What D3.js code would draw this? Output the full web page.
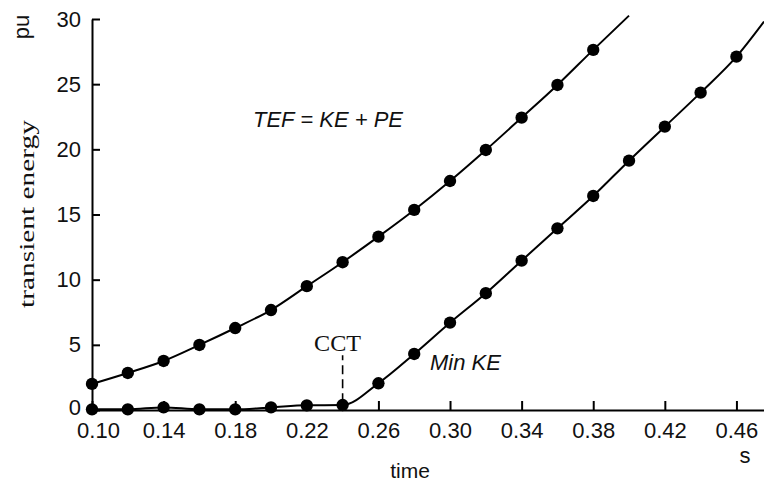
<!DOCTYPE html>
<html>
<head>
<meta charset="utf-8">
<script src="https://cdn.jsdelivr.net/npm/d3@7"></script>
<style>
  body { margin: 0; background: #fff; }
  svg { display: block; }
  text { fill: #111; }
</style>
</head>
<body>
<div id="chart"></div>
<script>
// values (time in s, energy in pu)
const time = [0.10, 0.12, 0.14, 0.16, 0.18, 0.20, 0.22, 0.24, 0.26, 0.28,
              0.30, 0.32, 0.34, 0.36, 0.38, 0.40, 0.42, 0.44, 0.46];
const tef = [2.0, 2.84, 3.76, 4.99, 6.29, 7.67, 9.5, 11.34, 13.3, 15.35,
             17.57, 19.95, 22.43, 24.94, 27.63, null, null, null, null];
const minKE = [0.05, 0.05, 0.2, 0.05, 0.05, 0.2, 0.36, 0.38, 2.05, 4.3,
               6.7, 8.96, 11.46, 13.94, 16.42, 19.13, 21.74, 24.35, 27.11];
// where each curve leaves the frame (no marker there)
const tefEnd = [0.40, 30.26];
const minKEEnd = [0.4754, 29.8];
const cctTime = 0.24;
const cctSpan = [0.6, 4.2];
const xTicks = [0.10, 0.14, 0.18, 0.22, 0.26, 0.30, 0.34, 0.38, 0.42, 0.46];
const yTicks = [0, 5, 10, 15, 20, 25, 30];

const W = 764, H = 485;
const svg = d3.select("#chart").append("svg")
  .attr("width", W).attr("height", H);

const x = d3.scaleLinear().domain([0.10, 0.4754]).range([92, 764]);
const y = d3.scaleLinear().domain([0, 30]).range([410, 19]);

const sans = "'Liberation Sans', Arial, Helvetica, sans-serif";
const serif = "'Liberation Serif', 'DejaVu Serif', serif";

// axes, ticks pointing inward
const xAxis = svg.append("g")
  .attr("transform", `translate(0,${y(0)})`)
  .call(d3.axisBottom(x).tickValues(xTicks).tickFormat(d3.format(".2f"))
    .tickSizeInner(-9).tickSizeOuter(0).tickPadding(12));
const yAxis = svg.append("g")
  .attr("transform", `translate(${x(0.10)},0)`)
  .call(d3.axisLeft(y).tickValues(yTicks)
    .tickSizeInner(-8).tickSizeOuter(0).tickPadding(11));

[xAxis, yAxis].forEach(g => {
  g.select(".domain").attr("stroke", "#000").attr("stroke-width", 2);
  g.selectAll(".tick line").attr("stroke", "#000").attr("stroke-width", 2);
  g.selectAll(".tick text")
    .attr("font-family", sans).attr("font-size", 22).attr("fill", "#222");
});
// first time label sits a little right of the corner, as in the original
xAxis.select(".tick text").attr("dx", 6);
yAxis.select(".tick text").attr("dy", "0.2em");

const line = d3.line()
  .defined(d => d[1] != null)
  .x(d => x(d[0])).y(d => y(d[1]))
  .curve(d3.curveMonotoneX);

const tefPts = time.map((t, i) => [t, tef[i]]).filter(d => d[1] != null);
const kePts = time.map((t, i) => [t, minKE[i]]);

svg.append("path")
  .datum([...tefPts, tefEnd])
  .attr("d", line)
  .attr("fill", "none").attr("stroke", "#000").attr("stroke-width", 2);

svg.append("path")
  .datum([...kePts, minKEEnd])
  .attr("d", line)
  .attr("fill", "none").attr("stroke", "#000").attr("stroke-width", 2);

const marker = d3.symbol().type(d3.symbolCircle).size(120);
svg.selectAll(".m")
  .data([...tefPts, ...kePts])
  .join("path")
  .attr("transform", d => `translate(${x(d[0])},${y(d[1])})`)
  .attr("d", marker)
  .attr("fill", "#000");

// CCT marker line
svg.append("line")
  .attr("x1", x(cctTime)).attr("x2", x(cctTime))
  .attr("y1", y(cctSpan[0])).attr("y2", y(cctSpan[1]))
  .attr("stroke", "#000").attr("stroke-width", 1.6)
  .attr("stroke-dasharray", "9,5");

svg.append("text")
  .attr("x", x(cctTime) - 5).attr("y", 351)
  .attr("text-anchor", "middle")
  .attr("font-family", serif).attr("font-size", 23)
  .attr("textLength", 47).attr("lengthAdjust", "spacingAndGlyphs")
  .text("CCT");

// curve annotations
svg.append("text")
  .attr("x", 253).attr("y", 127)
  .attr("font-family", sans).attr("font-size", 22).attr("font-style", "italic")
  .text("TEF = KE + PE");

svg.append("text")
  .attr("x", 430).attr("y", 370)
  .attr("font-family", sans).attr("font-size", 22).attr("font-style", "italic")
  .text("Min KE");

// axis titles and units
svg.append("text")
  .attr("transform", "translate(34,214) rotate(-90)")
  .attr("text-anchor", "middle")
  .attr("font-family", serif).attr("font-size", 22)
  .attr("textLength", 188).attr("lengthAdjust", "spacingAndGlyphs")
  .text("transient energy");

svg.append("text")
  .attr("transform", "translate(29,27) rotate(-90)")
  .attr("text-anchor", "middle")
  .attr("font-family", sans).attr("font-size", 22)
  .text("pu");

svg.append("text")
  .attr("x", 410).attr("y", 478)
  .attr("text-anchor", "middle")
  .attr("font-family", sans).attr("font-size", 21)
  .text("time");

svg.append("text")
  .attr("x", 745).attr("y", 463)
  .attr("text-anchor", "middle")
  .attr("font-family", sans).attr("font-size", 22)
  .text("s");
</script>
</body>
</html>
